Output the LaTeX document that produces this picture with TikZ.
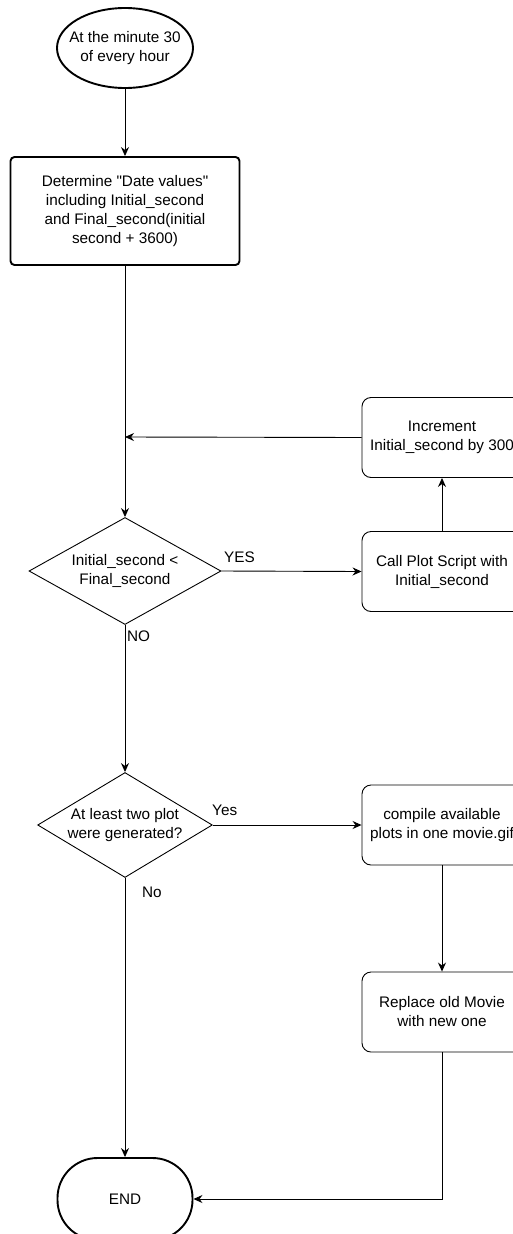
\documentclass[tikz,border=0pt]{standalone}
\usepackage{fontspec}
\setmainfont{Liberation Sans}
\usetikzlibrary{shapes.geometric,arrows.meta}

\begin{document}
\begin{tikzpicture}[x=1pt,y=-1pt,
  font=\fontsize{15.3}{19}\selectfont,
  every node/.style={align=center},
  thickline/.style={draw, line width=1.9pt},
  thinline/.style={draw, line width=0.9pt},
  startnode/.style={thickline, ellipse, minimum width=136pt, minimum height=80pt, inner xsep=-10pt, inner ysep=0pt},
  mainbox/.style={thickline, rectangle, rounded corners=4pt, minimum width=229pt, minimum height=108pt},
  sidebox/.style={thinline, rectangle, rounded corners=9pt, minimum width=160pt, minimum height=80pt, inner sep=0pt},
  decision/.style={thinline, diamond, aspect=1.8, inner sep=0pt},
  endnode/.style={thickline, rectangle, rounded corners=40pt, minimum width=135pt, minimum height=82pt},
  arr/.style={line width=0.9pt, -{Stealth[length=9pt,width=8pt]}},
  lbl/.style={inner sep=0pt, anchor=west}
]
\useasboundingbox (0,0) rectangle (513,1234);
\clip (0,0) rectangle (513,1234);

% main column
\node[startnode] (start) at (125,48) {At the minute 30\\of every hour};
\node[mainbox] (init) at (125,211) {Determine \textquotedbl Date values\textquotedbl\\including Initial\_second\\and Final\_second(initial\\second + 3600)};
\node[decision, minimum width=192pt, minimum height=107pt] (loop) at (125,571) {Initial\_second <\\Final\_second};
\node[decision, minimum width=170pt, minimum height=105pt] (enough) at (125,825) {At least two plot\\were generated?};
\node[endnode] (stop) at (125,1199) {END};

% right column
\node[sidebox] (incr) at (442,437.5) {Increment\\Initial\_second by 300};
\node[sidebox] (plot) at (442,571.5) {Call Plot Script with\\Initial\_second};
\node[sidebox] (movie) at (442,825) {compile available\\plots in one movie.gif};
\node[sidebox] (replace) at (442,1012) {Replace old Movie\\with new one};

\coordinate (merge) at (125,437);

% connectors
\draw[arr] (start) -- (init);
\draw[arr] (init.south) -- (loop.north);
\draw[arr] (incr.west) -- (merge);
\draw[arr] (loop.east) -- (plot.west);
\draw[arr] (plot) -- (incr);
\draw[arr] (loop.south) -- (enough.north);
\draw[arr] (enough.east) -- (movie.west);
\draw[arr] (movie) -- (replace);
\draw[arr] (enough.south) -- (stop.north);
\draw[arr] (replace.south) |- (stop.east);

% branch labels
\node[lbl] at (224,557) {YES};
\node[lbl] at (127,636) {NO};
\node[lbl] at (212,810) {Yes};
\node[lbl] at (142,892) {No};
\end{tikzpicture}
\end{document}
